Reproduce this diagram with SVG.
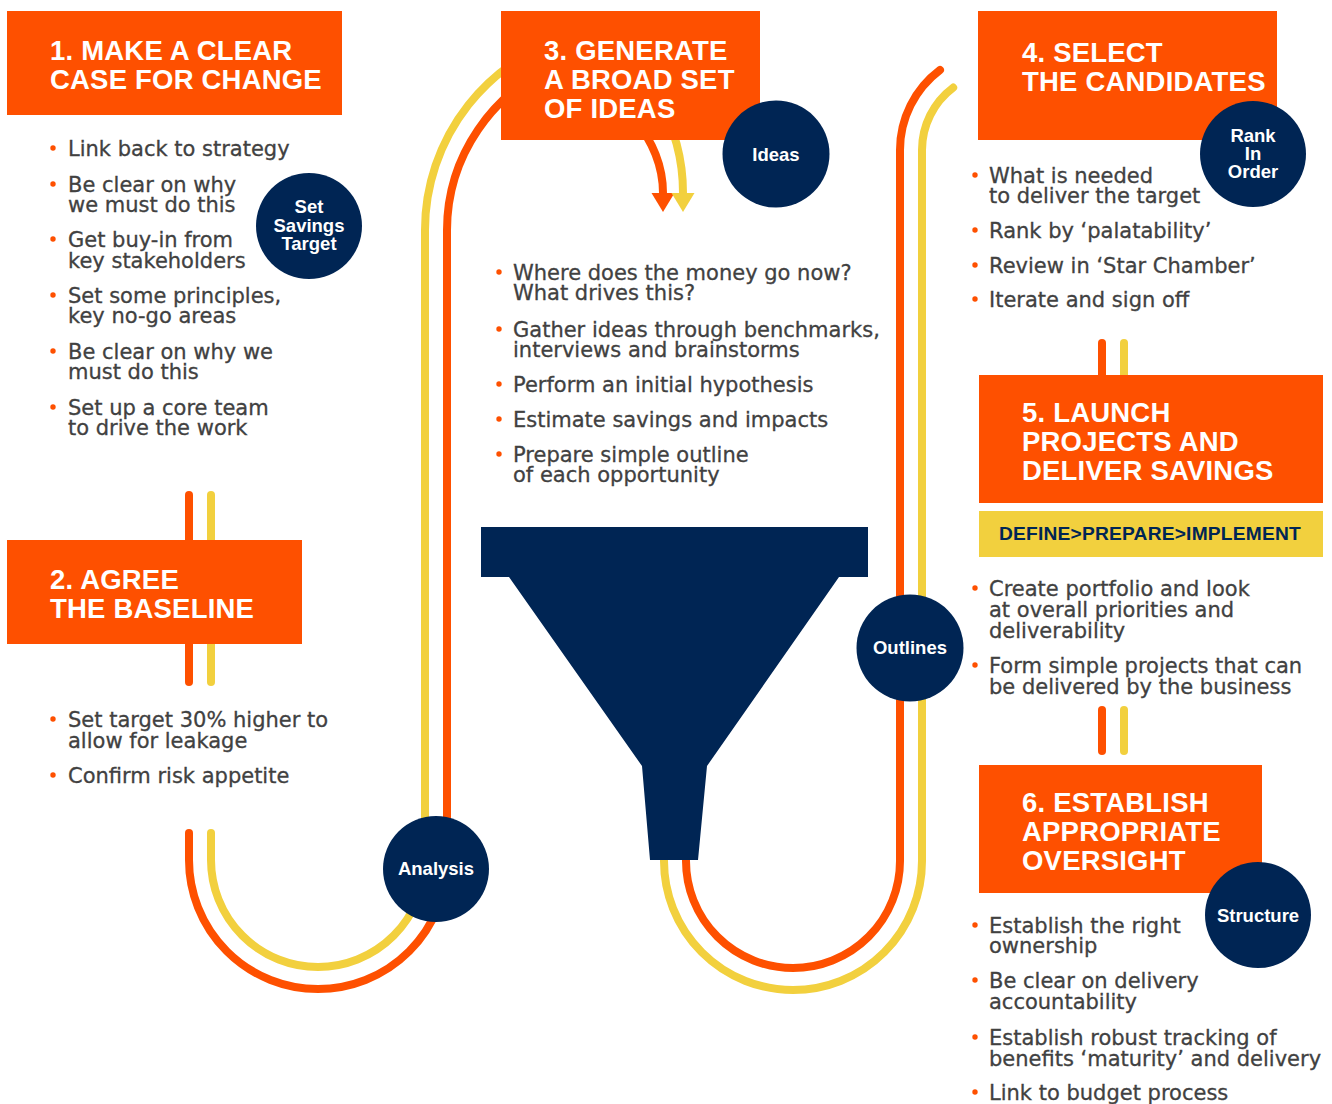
<svg xmlns="http://www.w3.org/2000/svg" width="1332" height="1104" viewBox="0 0 1332 1104">
  <style>
    .bg { fill: #ffffff; }
    .box { fill: #FE5000; }
    .band { fill: #F2D03E; }
    .navy { fill: #002554; }
    .ln { fill: none; stroke-width: 8; stroke-linecap: round; }
    .or { stroke: #FE5000; }
    .ye { stroke: #F2D03E; }
    .head { font-family: "Liberation Sans", Arial, sans-serif; font-weight: 700; font-size: 27.5px; letter-spacing: 0.2px; fill: #ffffff; }
    .lbl { font-family: "Liberation Sans", Arial, sans-serif; font-weight: 700; font-size: 18.5px; fill: #ffffff; text-anchor: middle; }
    .band-t { font-family: "Liberation Sans", Arial, sans-serif; font-weight: 700; font-size: 19.2px; letter-spacing: 0.2px; fill: #002554; }
    .body { font-family: "DejaVu Sans", "Liberation Sans", sans-serif; font-size: 21px; fill: #414141; stroke: #414141; stroke-width: 0.3px; }
    .dot { fill: #FE5000; }
  </style>
  <defs>
    <marker id="arrOr" markerUnits="userSpaceOnUse" markerWidth="20" markerHeight="24" refX="0" refY="12" orient="auto" viewBox="0 0 20 24">
      <path d="M0,0.5 L19,12 L0,23.5 z" fill="#FE5000"/>
    </marker>
    <marker id="arrYe" markerUnits="userSpaceOnUse" markerWidth="20" markerHeight="24" refX="0" refY="12" orient="auto" viewBox="0 0 20 24">
      <path d="M0,0.5 L19,12 L0,23.5 z" fill="#F2D03E"/>
    </marker>
  </defs>

  <rect class="bg" x="0" y="0" width="1332" height="1104"/>

  <!-- connectors: twin orange / yellow tracks -->
  <g id="connectors">
    <!-- step 1 to step 2 -->
    <line class="ln or" x1="189" y1="495" x2="189" y2="682"/>
    <line class="ln ye" x1="211" y1="495" x2="211" y2="682"/>
    <!-- step 2 down, round the bottom, up to step 3 and into the funnel -->
    <path class="ln or" style="stroke-linecap:butt" d="M189,836 V860 A129,129 0 0 0 447,860 V230 A179,179 0 0 1 560,64 C620,90 663,140 663,193" marker-end="url(#arrOr)"/>
    <path class="ln ye" style="stroke-linecap:butt" d="M211,836 V860 A107,107 0 0 0 425,860 V230 A202,202 0 0 1 580,33.5 C650,60 683,130 683,193" marker-end="url(#arrYe)"/>
    <!-- rounded starts of the bottom-left loop -->
    <line class="ln or" x1="189" y1="833" x2="189" y2="840"/>
    <line class="ln ye" x1="211" y1="833" x2="211" y2="840"/>
    <!-- funnel outlet, round the bottom, up to step 4 -->
    <path class="ln or" d="M686,845 V861 A107,107 0 0 0 900,861 V150 A100,100 0 0 1 940,70"/>
    <path class="ln ye" d="M664,845 V861 A129,129 0 0 0 922,861 V150 A78,78 0 0 1 953.2,87.6"/>
    <!-- step 4 to step 5 -->
    <line class="ln or" x1="1102" y1="343" x2="1102" y2="390"/>
    <line class="ln ye" x1="1124" y1="343" x2="1124" y2="390"/>
    <!-- step 5 to step 6 -->
    <line class="ln or" x1="1102" y1="710" x2="1102" y2="751"/>
    <line class="ln ye" x1="1124" y1="710" x2="1124" y2="751"/>
  </g>

  <!-- step 1 -->
  <g id="step1">
    <rect class="box" x="7" y="11" width="335" height="104"/>
    <text class="head"><tspan x="50" y="60">1. MAKE A CLEAR</tspan><tspan x="50" y="89">CASE FOR CHANGE</tspan></text>
    <g class="dot">
      <circle cx="53" cy="148" r="2.7"/><circle cx="53" cy="184" r="2.7"/><circle cx="53" cy="239" r="2.7"/>
      <circle cx="53" cy="295" r="2.7"/><circle cx="53" cy="351" r="2.7"/><circle cx="53" cy="407" r="2.7"/>
    </g>
    <text class="body">
      <tspan x="68" y="156">Link back to strategy</tspan>
      <tspan x="68" y="192">Be clear on why</tspan>
      <tspan x="68" y="212">we must do this</tspan>
      <tspan x="68" y="247">Get buy-in from</tspan>
      <tspan x="68" y="268">key stakeholders</tspan>
      <tspan x="68" y="303">Set some principles,</tspan>
      <tspan x="68" y="323">key no-go areas</tspan>
      <tspan x="68" y="359">Be clear on why we</tspan>
      <tspan x="68" y="379">must do this</tspan>
      <tspan x="68" y="415">Set up a core team</tspan>
      <tspan x="68" y="435">to drive the work</tspan>
    </text>
  </g>

  <g id="target">
    <circle class="navy" cx="309" cy="226" r="53"/>
    <text class="lbl"><tspan x="309" y="213">Set</tspan><tspan x="309" y="231.5">Savings</tspan><tspan x="309" y="250">Target</tspan></text>
  </g>

  <!-- step 2 -->
  <g id="step2">
    <rect class="box" x="7" y="540" width="295" height="104"/>
    <text class="head"><tspan x="50" y="589">2. AGREE</tspan><tspan x="50" y="618">THE BASELINE</tspan></text>
    <g class="dot"><circle cx="53" cy="719" r="2.7"/><circle cx="53" cy="775" r="2.7"/></g>
    <text class="body">
      <tspan x="68" y="727">Set target 30% higher to</tspan>
      <tspan x="68" y="748">allow for leakage</tspan>
      <tspan x="68" y="783">Confirm risk appetite</tspan>
    </text>
  </g>

  <g id="analysis">
    <circle class="navy" cx="436" cy="869" r="53"/>
    <text class="lbl" x="436" y="875">Analysis</text>
  </g>

  <!-- step 3 -->
  <g id="step3">
    <rect class="box" x="501" y="11" width="259" height="129"/>
    <text class="head"><tspan x="544" y="60">3. GENERATE</tspan><tspan x="544" y="89">A BROAD SET</tspan><tspan x="544" y="118">OF IDEAS</tspan></text>
    <g class="dot">
      <circle cx="499" cy="272" r="2.7"/><circle cx="499" cy="329" r="2.7"/><circle cx="499" cy="384" r="2.7"/>
      <circle cx="499" cy="419" r="2.7"/><circle cx="499" cy="454" r="2.7"/>
    </g>
    <text class="body">
      <tspan x="513" y="280">Where does the money go now?</tspan>
      <tspan x="513" y="300">What drives this?</tspan>
      <tspan x="513" y="337">Gather ideas through benchmarks,</tspan>
      <tspan x="513" y="357">interviews and brainstorms</tspan>
      <tspan x="513" y="392">Perform an initial hypothesis</tspan>
      <tspan x="513" y="427">Estimate savings and impacts</tspan>
      <tspan x="513" y="462">Prepare simple outline</tspan>
      <tspan x="513" y="482">of each opportunity</tspan>
    </text>
  </g>

  <g id="ideas">
    <circle class="navy" cx="776" cy="154" r="53.5"/>
    <text class="lbl" x="776" y="160.5">Ideas</text>
  </g>

  <!-- funnel -->
  <g id="funnel">
    <path class="navy" d="M481,527 H868 V577 H839 L707,766 L698,860 H650 L642,766 L509,577 H481 Z"/>
  </g>

  <g id="outlines">
    <circle class="navy" cx="910" cy="648" r="53.5"/>
    <text class="lbl" x="910" y="654">Outlines</text>
  </g>

  <!-- step 4 -->
  <g id="step4">
    <rect class="box" x="978" y="11" width="299" height="129"/>
    <text class="head"><tspan x="1022" y="62">4. SELECT</tspan><tspan x="1022" y="91">THE CANDIDATES</tspan></text>
    <g class="dot">
      <circle cx="975" cy="175" r="2.7"/><circle cx="975" cy="230" r="2.7"/>
      <circle cx="975" cy="265" r="2.7"/><circle cx="975" cy="299" r="2.7"/>
    </g>
    <text class="body">
      <tspan x="989" y="183">What is needed</tspan>
      <tspan x="989" y="203">to deliver the target</tspan>
      <tspan x="989" y="238">Rank by ‘palatability’</tspan>
      <tspan x="989" y="273">Review in ‘Star Chamber’</tspan>
      <tspan x="989" y="307">Iterate and sign off</tspan>
    </text>
  </g>

  <g id="rank">
    <circle class="navy" cx="1253" cy="154" r="53"/>
    <text class="lbl"><tspan x="1253" y="142">Rank</tspan><tspan x="1253" y="160">In</tspan><tspan x="1253" y="178">Order</tspan></text>
  </g>

  <!-- step 5 -->
  <g id="step5">
    <rect class="box" x="979" y="375" width="344" height="128"/>
    <text class="head"><tspan x="1022" y="422">5. LAUNCH</tspan><tspan x="1022" y="451">PROJECTS AND</tspan><tspan x="1022" y="480">DELIVER SAVINGS</tspan></text>
    <rect class="band" x="979" y="511" width="344" height="46"/>
    <text class="band-t" x="999" y="540">DEFINE&gt;PREPARE&gt;IMPLEMENT</text>
    <g class="dot"><circle cx="975" cy="588" r="2.7"/><circle cx="975" cy="665" r="2.7"/></g>
    <text class="body">
      <tspan x="989" y="596">Create portfolio and look</tspan>
      <tspan x="989" y="617">at overall priorities and</tspan>
      <tspan x="989" y="638">deliverability</tspan>
      <tspan x="989" y="673">Form simple projects that can</tspan>
      <tspan x="989" y="694">be delivered by the business</tspan>
    </text>
  </g>

  <!-- step 6 -->
  <g id="step6">
    <rect class="box" x="979" y="765" width="283" height="128"/>
    <text class="head"><tspan x="1022" y="812">6. ESTABLISH</tspan><tspan x="1022" y="841">APPROPRIATE</tspan><tspan x="1022" y="870">OVERSIGHT</tspan></text>
    <g class="dot">
      <circle cx="975" cy="925" r="2.7"/><circle cx="975" cy="980" r="2.7"/>
      <circle cx="975" cy="1037" r="2.7"/><circle cx="975" cy="1092" r="2.7"/>
    </g>
    <text class="body">
      <tspan x="989" y="933">Establish the right</tspan>
      <tspan x="989" y="953">ownership</tspan>
      <tspan x="989" y="988">Be clear on delivery</tspan>
      <tspan x="989" y="1009">accountability</tspan>
      <tspan x="989" y="1045">Establish robust tracking of</tspan>
      <tspan x="989" y="1066">benefits ‘maturity’ and delivery</tspan>
      <tspan x="989" y="1100">Link to budget process</tspan>
    </text>
  </g>

  <g id="structure">
    <circle class="navy" cx="1258" cy="915" r="53"/>
    <text class="lbl" x="1258" y="922">Structure</text>
  </g>
</svg>
